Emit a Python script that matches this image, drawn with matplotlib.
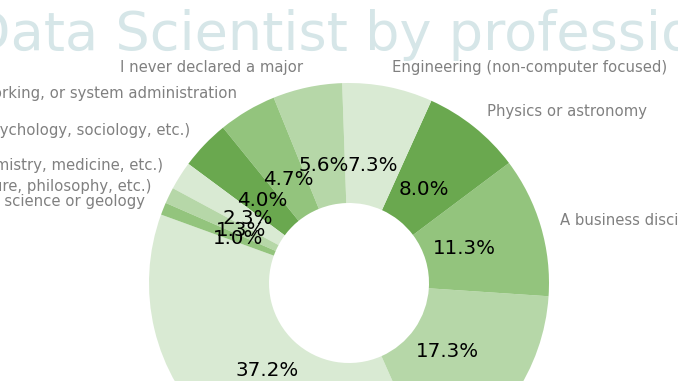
import numpy as np
import matplotlib
matplotlib.use("Agg")
import matplotlib.pyplot as plt

# parts du donut (en %), dans l'ordre du tracé
majors = [
    "Computer science (software engineering, etc.)",
    "Mathematics or statistics",
    "A business discipline (accounting, economics, finance, etc.)",
    "Physics or astronomy",
    "Engineering (non-computer focused)",
    "I never declared a major",
    "Information technology, networking, or system administration",
    "Social sciences (anthropology, psychology, sociology, etc.)",
    "Medical or life sciences (biology, chemistry, medicine, etc.)",
    "Humanities (history, literature, philosophy, etc.)",
    "Environmental science or geology",
]
shares = [37.2, 17.3, 11.3, 8.0, 7.3, 5.6, 4.7, 4.0, 2.3, 1.3, 1.0]

greens = ["#d9ead3", "#b6d7a8", "#93c47d", "#6aa84f"]
colors = [greens[i % 4] for i in range(len(shares))]

W, H = 678, 381
fig = plt.figure(figsize=(W / 100, H / 100), dpi=100)
ax = fig.add_axes([0, 0, 1, 1])

wedges, texts, autotexts = ax.pie(shares, labels=majors, colors=colors,
                                  autopct="%1.1f%%", startangle=160,
                                  pctdistance=0.6, labeldistance=1.1,
                                  wedgeprops=dict(width=0.6),
                                  textprops=dict(fontsize=10.7, color="grey"),
                                  normalize=True)
for t in autotexts:
    t.set_color("black")
    t.set_fontsize(14.3)

# centre du donut a (349, 283) px, rayon 200 px
cx, cy, R = 349, H - 283, 200
ax.set_aspect("equal")
ax.set_xlim(-cx / R, (W - cx) / R)
ax.set_ylim(-cy / R, (H - cy) / R)
ax.axis("off")

fig.text(349 / W, (H - 50) / H, "Data Scientist by profession", ha="center",
         va="baseline", fontsize=39, color="#d6e6e8")

fig.savefig("out.png", dpi=100)
